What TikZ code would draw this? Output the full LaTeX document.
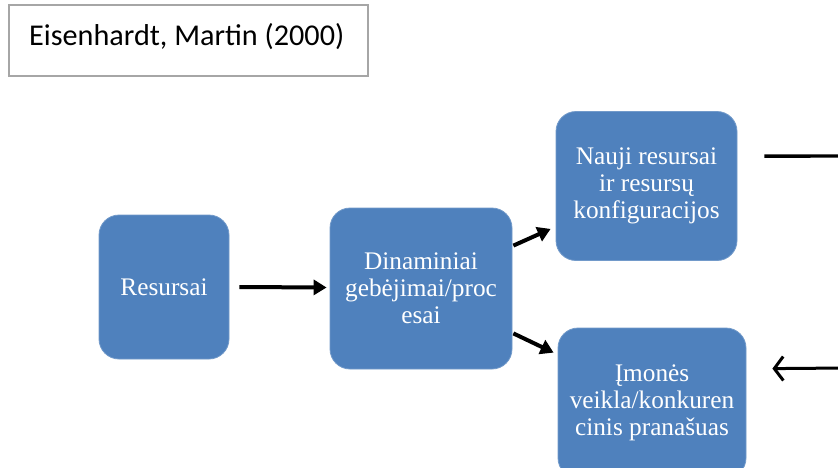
\documentclass[tikz,border=0pt]{standalone}
\usepackage{fontspec}
\setmainfont{Liberation Serif}
\newfontfamily\titlefont{Carlito}
\usetikzlibrary{arrows.meta,calc}
\definecolor{boxblue}{HTML}{4F81BD}
\definecolor{framegray}{HTML}{A6A6A6}
\tikzset{
  bluebox/.style={rectangle, rounded corners=20pt, fill=boxblue, draw=boxblue!80!white,
    line width=0.8pt, text=white, align=center, inner sep=0pt,
    font=\fontsize{25.3}{27}\selectfont},
  flowarrow/.style={line width=4pt, -{Triangle[length=13pt,width=15pt]}},
  sideline/.style={line width=3.4pt},
  backarrow/.style={line width=3pt, -{Straight Barb[length=9pt,width=24pt,line width=3pt]}}
}
\begin{document}
\begin{tikzpicture}[x=1pt,y=-1pt]
  \clip (0,0) rectangle (838,467);
  \fill[white] (0,0) rectangle (838,467);

  % source label
  \node[draw=framegray, line width=1.4pt, minimum width=359pt, minimum height=71pt,
        inner sep=0pt] (src) at (188.5,40.5) {};
  \node[anchor=base west, inner sep=0pt, font=\titlefont\fontsize{30.2}{32}\selectfont]
        (srctext) at (29,45) {Eisenhardt, Martin (2000)};

  % process boxes
  \node[bluebox, minimum width=130pt, minimum height=144pt] (res) at (164,287) {Resursai};
  \node[bluebox, minimum width=182pt, minimum height=161pt] (din) at (421,288.5)
        {Dinaminiai\\gebėjimai/proc\\esai};
  \node[bluebox, minimum width=181pt, minimum height=149pt] (nauji) at (646.5,186)
        {Nauji resursai\\ir resursų\\konfigura\-cijos};
  \node[bluebox, minimum width=188pt, minimum height=150pt] (imon) at (652,403)
        {Įmonės\\veikla/konkuren\\cinis pranašuas};

  % connectors
  \draw[flowarrow] ([xshift=10pt]res.east) -- ([xshift=-3pt,yshift=1pt]din.west);
  \draw[flowarrow] ($(din.north east)+(1,38)$) -- ($(nauji.south west)+(-5,-32)$);
  \draw[flowarrow] ($(din.south east)+(1,-36)$) -- ($(imon.north west)+(-4,25)$);

  % feedback lines leaving the frame on the right
  \coordinate (outTop) at (845,156);
  \coordinate (outBot) at (845,368);
  \draw[sideline] ($(nauji.north east)+(27,45)$) -- (outTop);
  \draw[backarrow] (outBot) -- ($(imon.north east)+(26,41)$);
\end{tikzpicture}
\end{document}
